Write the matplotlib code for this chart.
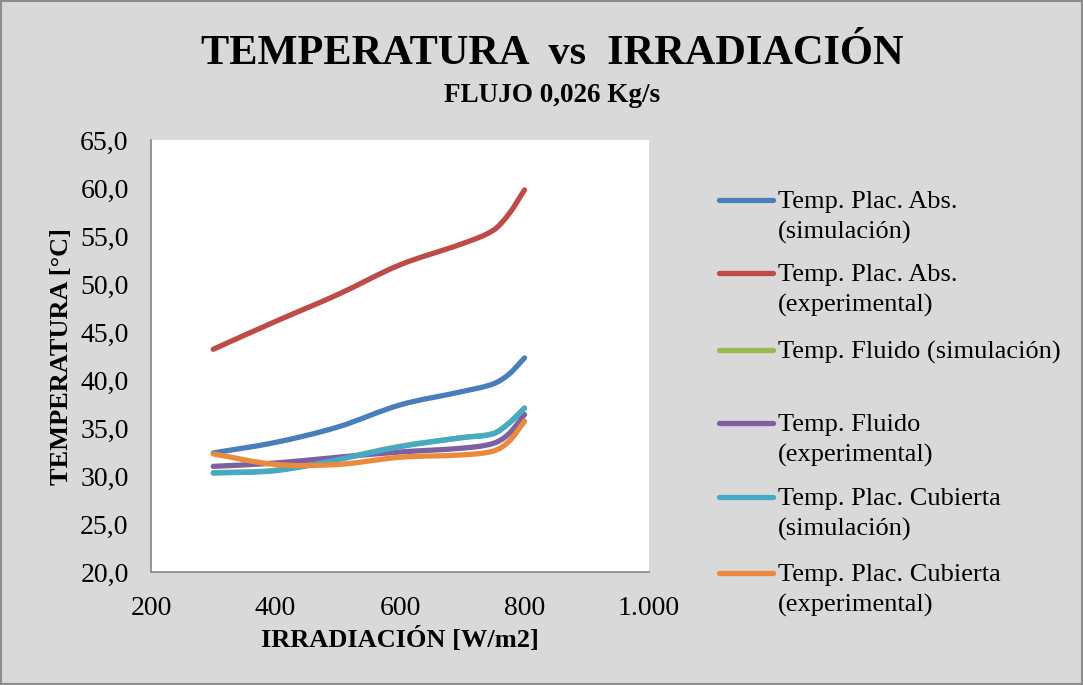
import matplotlib
matplotlib.use('Agg')
import matplotlib.pyplot as plt
from matplotlib.path import Path
from matplotlib.patches import PathPatch, Rectangle
from matplotlib.lines import Line2D
from matplotlib.ticker import FuncFormatter

plt.rcParams['font.family'] = ['Liberation Serif', 'DejaVu Serif']

# irradiance (W/m2)
irrad = [300, 400, 500, 600, 700, 750, 775, 800]

# temperatures (°C)
abs_sim = [32.4, 33.5, 35.1, 37.4, 38.8, 39.6, 40.6, 42.3]
abs_exp = [43.2, 46.1, 48.9, 52.0, 54.2, 55.6, 57.3, 59.8]
fluido_sim = [30.35, 30.6, 31.75, 33.1, 34.0, 34.45, 35.5, 37.1]
fluido_exp = [31.0, 31.35, 31.95, 32.5, 32.9, 33.4, 34.4, 36.4]
cub_sim = [30.3, 30.55, 31.7, 33.05, 34.0, 34.4, 35.5, 37.05]
cub_exp = [32.3, 31.2, 31.2, 31.95, 32.2, 32.6, 33.6, 35.7]

series = [
    ('Temp. Plac. Abs.\n(simulación)', abs_sim, '#4a7ebb'),
    ('Temp. Plac. Abs.\n(experimental)', abs_exp, '#be4b48'),
    ('Temp. Fluido (simulación)', fluido_sim, '#98b954'),
    ('Temp. Fluido\n(experimental)', fluido_exp, '#7d60a0'),
    ('Temp. Plac. Cubierta\n(simulación)', cub_sim, '#46aac5'),
    ('Temp. Plac. Cubierta\n(experimental)', cub_exp, '#eb8a3e'),
]


def smooth_path(xs, ys):
    # smoothed line like excel: cubic bezier segments through the data points
    n = len(xs)
    slopes = []
    for i in range(n):
        if i == 0:
            slopes.append((ys[1] - ys[0]) / (xs[1] - xs[0]))
        elif i == n - 1:
            slopes.append((ys[-1] - ys[-2]) / (xs[-1] - xs[-2]))
        else:
            slopes.append((ys[i + 1] - ys[i - 1]) / (xs[i + 1] - xs[i - 1]))
    verts = [(xs[0], ys[0])]
    codes = [Path.MOVETO]
    for i in range(n - 1):
        h = (xs[i + 1] - xs[i]) / 3
        verts += [(xs[i] + h, ys[i] + slopes[i] * h),
                  (xs[i + 1] - h, ys[i + 1] - slopes[i + 1] * h),
                  (xs[i + 1], ys[i + 1])]
        codes += [Path.CURVE4] * 3
    return Path(verts, codes)


fig = plt.figure(figsize=(10.83, 6.85), dpi=100)
fig.patch.set_facecolor('#d9d9d9')
fig.add_artist(Rectangle((0.001, 0.001), 0.998, 0.997, transform=fig.transFigure,
                         fill=False, edgecolor='#8c8c8c', linewidth=1.5))

ax = fig.add_axes([0.1394, 0.165, 0.4599, 0.6306])
ax.set_facecolor('white')

for label, vals, color in series:
    ax.add_patch(PathPatch(smooth_path(irrad, vals), facecolor='none',
                           edgecolor=color, linewidth=3.8, capstyle='round',
                           joinstyle='round'))

ax.set_xlim(200, 1000)
ax.set_ylim(20, 65)
ax.set_xticks([200, 400, 600, 800, 1000])
ax.set_yticks([20, 25, 30, 35, 40, 45, 50, 55, 60, 65])
ax.xaxis.set_major_formatter(FuncFormatter(lambda v, p: '{:,.0f}'.format(v).replace(',', '.')))
ax.yaxis.set_major_formatter(FuncFormatter(lambda v, p: '{:.1f}'.format(v).replace('.', ',')))
ax.tick_params(length=0, labelsize=20)
ax.tick_params(axis='y', pad=16)
ax.tick_params(axis='x', pad=17)
for s in ['top', 'right']:
    ax.spines[s].set_visible(False)
for s in ['left', 'bottom']:
    ax.spines[s].set_color('#8c8c8c')
    ax.spines[s].set_linewidth(1.3)

ax.set_xlabel('IRRADIACIÓN [W/m2]', fontsize=19, fontweight='bold', va='center')
ax.xaxis.set_label_coords(0.5, -0.157)
ax.set_ylabel('TEMPERATURA [°C]', fontsize=19, fontweight='bold', va='center')
ax.yaxis.set_label_coords(-0.179, 0.498)

fig.text(0.510, 0.921, 'TEMPERATURA  vs  IRRADIACIÓN', ha='center', va='center',
         fontsize=30.5, fontweight='bold')
fig.text(0.510, 0.861, 'FLUJO 0,026 Kg/s', ha='center', va='center',
         fontsize=19.5, fontweight='bold')

# legend drawn by hand to match entry spacing
leg_y = [200, 273, 350, 423, 497, 573]
for (label, vals, color), yy in zip(series, leg_y):
    yf = 1 - yy / 685
    fig.add_artist(Line2D([719 / 1083, 773 / 1083], [yf, yf], transform=fig.transFigure,
                          color=color, linewidth=3.8, solid_capstyle='round'))
    for k, line in enumerate(label.split('\n')):
        fig.text(778 / 1083, 1 - (yy + 2 + 30 * k) / 685, line, ha='left',
                 va='center', fontsize=19)

fig.savefig('out.png', dpi=100, facecolor=fig.get_facecolor())
